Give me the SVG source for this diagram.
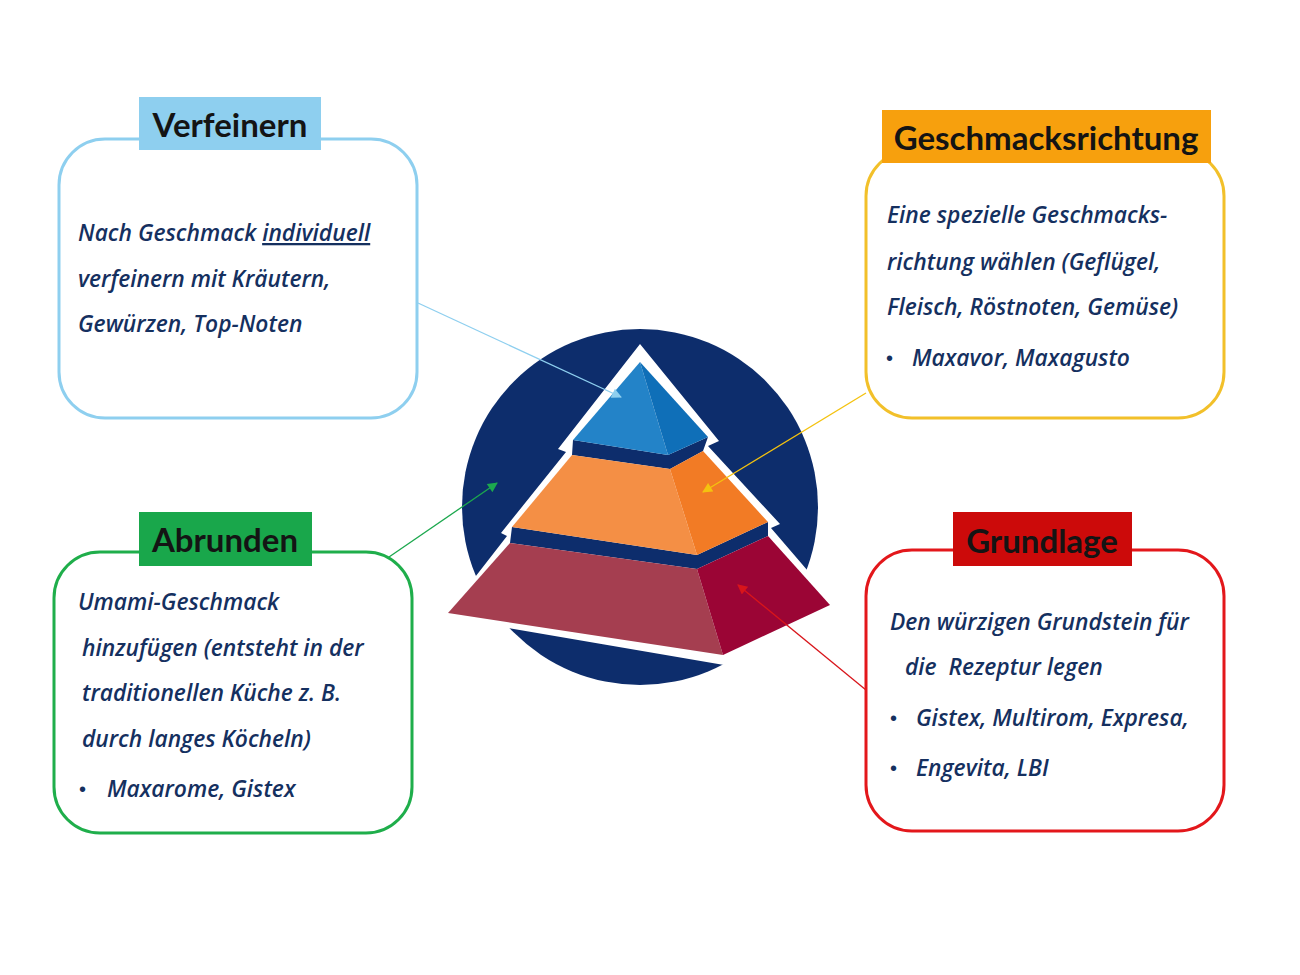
<svg xmlns="http://www.w3.org/2000/svg" width="1300" height="975" viewBox="0 0 1300 975">
<style>
.box{fill:#fff;stroke-width:3}
.title{font-family:Lato,"Open Sans","Liberation Sans",sans-serif;font-weight:700;font-size:33px;fill:#141414;text-anchor:middle}
.body{font-family:"Open Sans","Noto Sans","Liberation Sans",sans-serif;font-weight:600;font-style:italic;font-size:22.8px;fill:#15305f}
.bul{font-family:"Liberation Sans",sans-serif;font-size:20px;fill:#15305f}
.conn{fill:none;stroke-width:1.3}
</style>
<defs>
<marker id="aBlue" viewBox="0 0 10 10" refX="9" refY="5" markerWidth="13" markerHeight="10" markerUnits="userSpaceOnUse" orient="auto"><path d="M0,0 L10,5 L0,10 z" fill="#8ecfef"/></marker>
<marker id="aYellow" viewBox="0 0 10 10" refX="9" refY="5" markerWidth="13" markerHeight="10" markerUnits="userSpaceOnUse" orient="auto"><path d="M0,0 L10,5 L0,10 z" fill="#f4c20f"/></marker>
<marker id="aGreen" viewBox="0 0 10 10" refX="9" refY="5" markerWidth="13" markerHeight="10" markerUnits="userSpaceOnUse" orient="auto"><path d="M0,0 L10,5 L0,10 z" fill="#1ca84e"/></marker>
<marker id="aRed" viewBox="0 0 10 10" refX="9" refY="5" markerWidth="13" markerHeight="10" markerUnits="userSpaceOnUse" orient="auto"><path d="M0,0 L10,5 L0,10 z" fill="#d8151b"/></marker>
</defs>
<rect width="1300" height="975" fill="#fff"/>

<g id="pyramid">
<circle cx="640" cy="507" r="178" fill="#0d2d6c"/>
<polygon fill="#fff" points="640,344 719,441 708,446 780,524 771,528 838,606 724,665 444,617 507,536 501,533 566,452 558,449"/>
<polygon fill="#0d2d6c" points="573,440 668,455 708,437 703,451 670,469 572,455"/>
<polygon fill="#0d2d6c" points="512,527 697,555 768,522 768,536 697,569 510,543"/>
<polygon fill="#2383c8" points="640,362 573,440 668,455"/>
<polygon fill="#0f6fb8" points="640,362 668,455 708,437"/>
<polygon fill="#f48f45" points="572,455 670,469 697,555 512,527"/>
<polygon fill="#f27b25" points="670,469 703,451 768,522 697,555"/>
<polygon fill="#a53e50" points="510,543 697,569 723,655 448,613"/>
<polygon fill="#9b0535" points="697,569 768,536 830,605 723,655"/>
</g>

<g id="connectors">
<line class="conn" stroke="#8ecfef" x1="418" y1="303" x2="621" y2="397" marker-end="url(#aBlue)"/>
<line class="conn" stroke="#f4c20f" x1="866" y1="393" x2="703" y2="492" marker-end="url(#aYellow)"/>
<line class="conn" stroke="#1ca84e" x1="389" y1="557" x2="497" y2="483" marker-end="url(#aGreen)"/>
<line class="conn" stroke="#d8151b" x1="866" y1="690" x2="738" y2="585" marker-end="url(#aRed)"/>
</g>

<g id="verfeinern">
<rect class="box" x="59" y="139" width="358" height="279" rx="46" stroke="#8ecfef"/>
<rect x="139" y="97" width="182" height="53" fill="#8ecfef"/>
<text class="title" x="230" y="137">Verfeinern</text>
<text class="body" x="78" y="241">Nach Geschmack <tspan text-decoration="underline">individuell</tspan></text>
<text class="body" x="78" y="287">verfeinern mit Kräutern,</text>
<text class="body" x="78" y="332">Gewürzen, Top-Noten</text>
</g>

<g id="geschmacksrichtung">
<rect class="box" x="866" y="150" width="358" height="268" rx="46" stroke="#f2c02a"/>
<rect x="882" y="110" width="329" height="53" fill="#f7a00d"/>
<text class="title" x="1046" y="150">Geschmacksrichtung</text>
<text class="body" x="887" y="223">Eine spezielle Geschmacks-</text>
<text class="body" x="887" y="270">richtung wählen (Geflügel,</text>
<text class="body" x="887" y="315">Fleisch, Röstnoten, Gemüse)</text>
<text class="bul" x="886" y="365">•</text>
<text class="body" x="912" y="366">Maxavor, Maxagusto</text>
</g>

<g id="abrunden">
<rect class="box" x="54" y="552" width="358" height="281" rx="46" stroke="#1fae4b"/>
<rect x="139" y="512" width="173" height="54" fill="#19a74b"/>
<text class="title" x="225" y="552">Abrunden</text>
<text class="body" x="78" y="610">Umami-Geschmack</text>
<text class="body" x="82" y="656">hinzufügen (entsteht in der</text>
<text class="body" x="82" y="701">traditionellen Küche z. B.</text>
<text class="body" x="82" y="747">durch langes Köcheln)</text>
<text class="bul" x="79" y="796">•</text>
<text class="body" x="107" y="797">Maxarome, Gistex</text>
</g>

<g id="grundlage">
<rect class="box" x="866" y="550" width="358" height="281" rx="46" stroke="#e3171b"/>
<rect x="953" y="512" width="179" height="54" fill="#cc0a0a"/>
<text class="title" x="1042" y="553">Grundlage</text>
<text class="body" x="890" y="630">Den würzigen Grundstein für</text>
<text class="body" x="905" y="675" xml:space="preserve">die  Rezeptur legen</text>
<text class="bul" x="890" y="725">•</text>
<text class="body" x="916" y="726">Gistex, Multirom, Expresa,</text>
<text class="bul" x="890" y="775">•</text>
<text class="body" x="916" y="776">Engevita, LBI</text>
</g>
</svg>
